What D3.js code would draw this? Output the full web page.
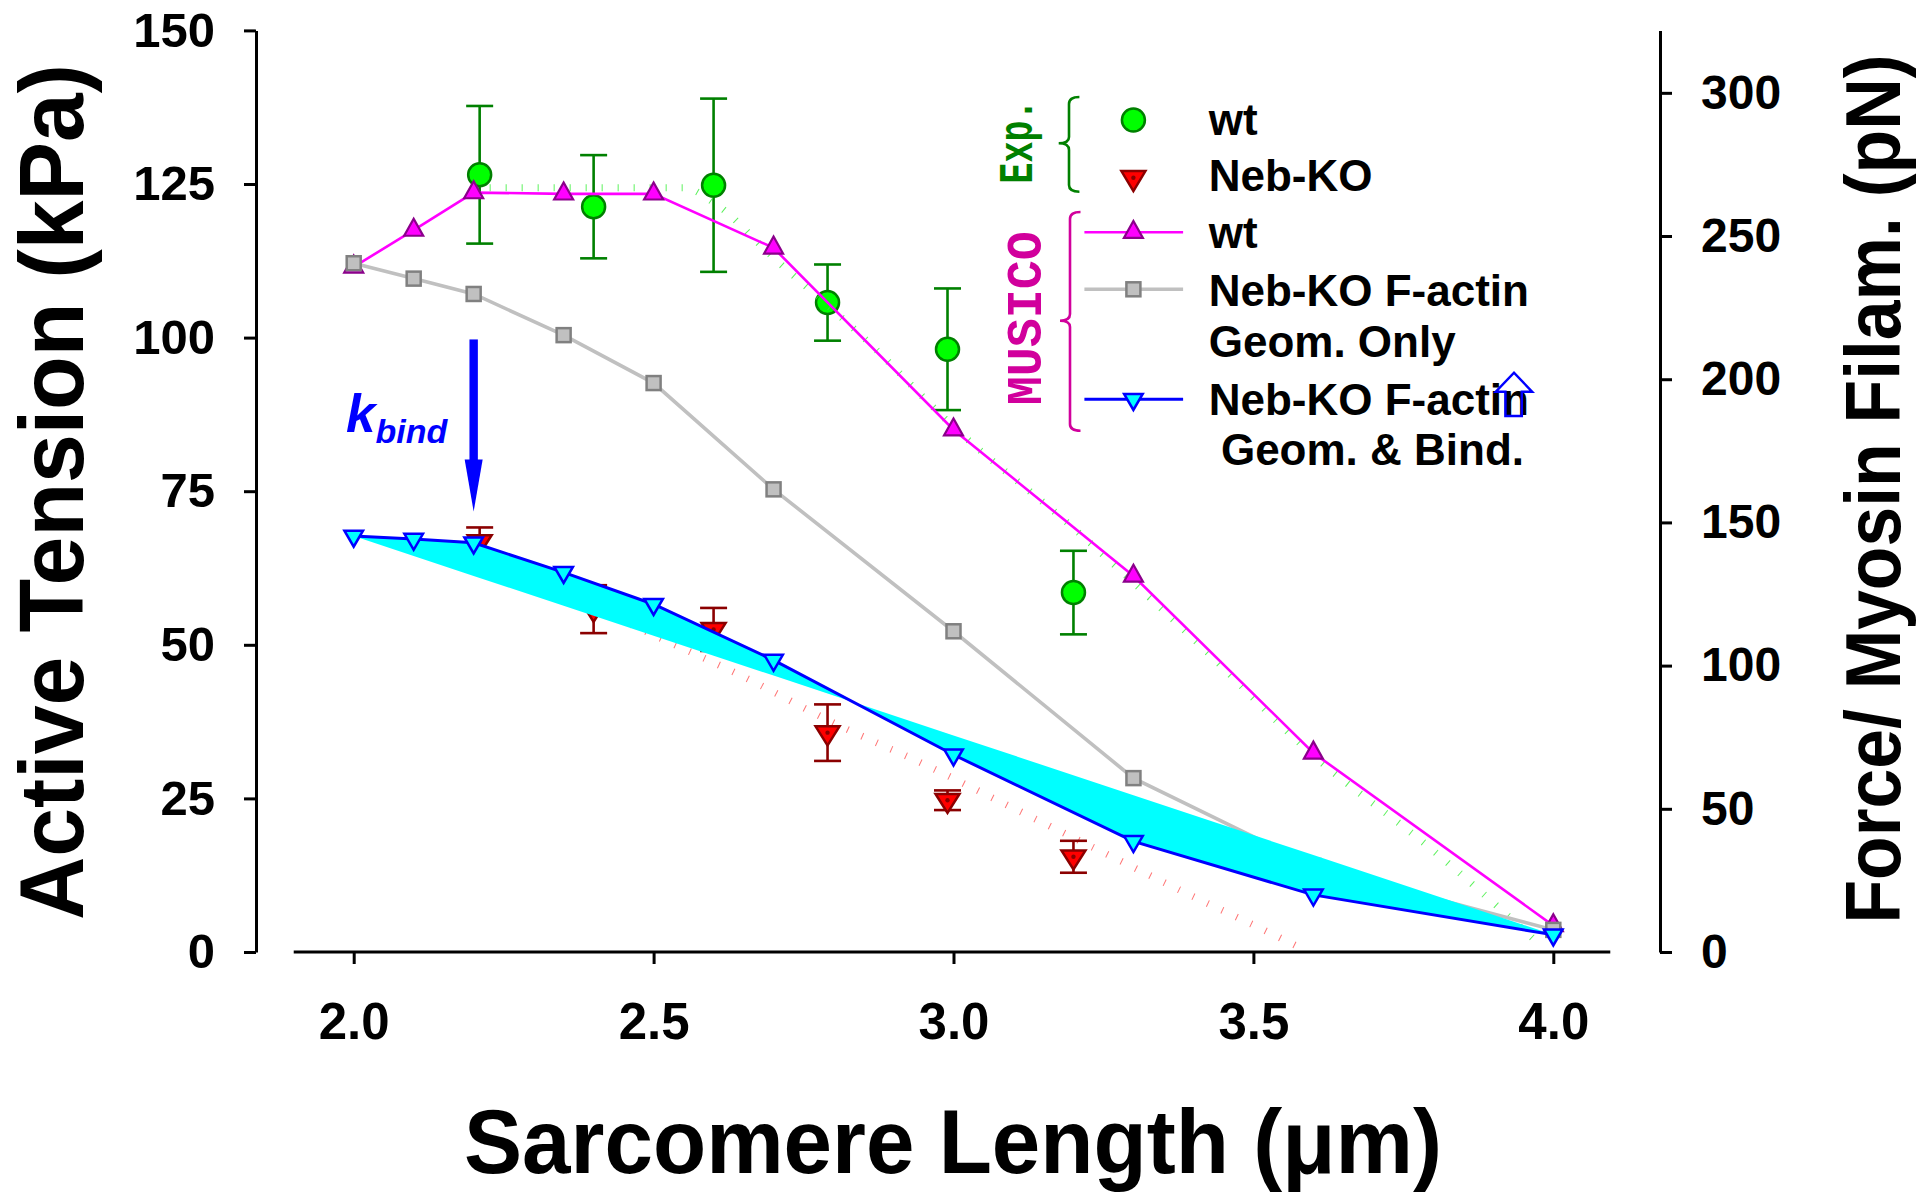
<!DOCTYPE html>
<html>
<head>
<meta charset="utf-8">
<script src="https://cdn.jsdelivr.net/npm/d3@7"></script>
<style>
  html, body { margin: 0; padding: 0; background: #ffffff; }
  svg { display: block; }
  text { font-family: "Liberation Sans", Arial, Helvetica, sans-serif; font-weight: bold; }
</style>
</head>
<body>
<svg id="chart" width="1919" height="1200"></svg>
<script>
// ---------------- DATA ----------------
const SL_MODEL = [2.0, 2.1, 2.2, 2.35, 2.5, 2.7, 3.0, 3.3, 3.6, 4.0];
const MUSICO_WT = [111.5, 117.5, 123.6, 123.4, 123.4, 114.6, 85.0, 61.2, 32.4, 4.3];
const MUSICO_KO_GEOM = [112.1, 109.6, 107.1, 100.4, 92.6, 75.3, 52.2, 28.3, 14.0, 3.6];
const MUSICO_KO_GEOM_BIND = [67.7, 67.2, 66.6, 61.8, 56.6, 47.5, 32.1, 18.0, 9.3, 2.8];

const SL_EXP = [2.21, 2.40, 2.60, 2.79, 2.99, 3.20];
const EXP_WT = [126.5, 121.3, 124.8, 105.7, 98.1, 58.5];
const EXP_WT_ERR = [11.2, 8.4, 14.1, 6.2, 9.9, 6.8];
const EXP_KO = [66.8, 55.8, 52.5, 35.7, 24.7, 15.5];
const EXP_KO_ERR = [2.3, 3.9, 3.5, 4.6, 1.6, 2.6];

const FIT_WT_SL = [2.2, 2.55, 2.6, 2.7, 2.85, 3.0, 3.2, 3.4, 3.6, 3.8, 3.98];
const FIT_WT = [124.4, 124.4, 122.0, 113.0, 100.0, 85.5, 69.0, 51.0, 32.0, 16.5, 1.0];
const FIT_KO_SL = [2.2, 2.35, 2.5, 2.65, 2.8, 2.95, 3.1, 3.25, 3.4, 3.5, 3.58];
const FIT_KO = [66.0, 58.5, 51.6, 44.8, 37.3, 30.6, 23.4, 16.2, 9.0, 4.4, 0.6];

const X_TICKS = [2.0, 2.5, 3.0, 3.5, 4.0];
const Y_TICKS = [0, 25, 50, 75, 100, 125, 150];
const YR_TICKS = [0, 50, 100, 150, 200, 250, 300];
const X_DOMAIN = [2.0, 4.0];
const X_LINE_EXTENT = [1.9, 4.095];
const Y_DOMAIN = [0, 150];
const YR_DOMAIN = [0, 321.8];

const KBIND_ARROW = { sl: 2.2, from: 99.7, to: 71.7 };

const LEGEND_EXP = ["wt", "Neb-KO"];
const LEGEND_MODEL = [["wt"], ["Neb-KO F-actin", "Geom. Only"], ["Neb-KO F-actin", " Geom. & Bind."]];

// ---------------- SETUP ----------------
const svg = d3.select("#chart");
const x = d3.scaleLinear().domain(X_DOMAIN).range([353.7, 1553.3]);
const y = d3.scaleLinear().domain(Y_DOMAIN).range([952, 30.4]);
const yR = d3.scaleLinear().domain(YR_DOMAIN).range([952, 30.4]);

const C = {
  magenta: "#ff00ff", magentaDark: "#8b008b",
  gray: "#c0c0c0", grayDark: "#808080",
  blue: "#0000ff", cyan: "#00ffff",
  green: "#00ff00", greenDark: "#008000",
  red: "#ff0000", redDark: "#8b0000",
  musico: "#d1009c"
};

function triUp(cx, cy, w, h) {
  return `M${cx - w/2},${cy + h/3}L${cx + w/2},${cy + h/3}L${cx},${cy - 2*h/3}Z`;
}
function triDown(cx, cy, w, h) {
  return `M${cx - w/2},${cy - h/3}L${cx + w/2},${cy - h/3}L${cx},${cy + 2*h/3}Z`;
}

// ---------------- AXES ----------------
const axisStyle = g => {
  g.selectAll("path.domain").attr("stroke", "#000").attr("stroke-width", 3);
  g.selectAll(".tick line").attr("stroke", "#000").attr("stroke-width", 3);
  g.selectAll(".tick text").attr("fill", "#000").style("font-family", '"Liberation Sans", Arial, sans-serif').style("font-weight", "bold");
};

const gL = svg.append("g").attr("transform", "translate(256,0)")
  .call(d3.axisLeft(y).tickValues(Y_TICKS).tickSize(12).tickSizeOuter(0).tickPadding(29).tickFormat(d3.format("d")));
axisStyle(gL);
gL.selectAll(".tick text").attr("font-size", 49);

const gR = svg.append("g").attr("transform", "translate(1660,0)")
  .call(d3.axisRight(yR).tickValues(YR_TICKS).tickSize(12).tickSizeOuter(0).tickPadding(29).tickFormat(d3.format("d")));
axisStyle(gR);
gR.selectAll(".tick text").attr("font-size", 48);

const gB = svg.append("g").attr("transform", "translate(0,952)")
  .call(d3.axisBottom(x).tickValues(X_TICKS).tickSize(12).tickSizeOuter(0).tickPadding(39).tickFormat(d3.format(".1f")));
axisStyle(gB);
gB.select("path.domain").remove();
gB.selectAll(".tick text").attr("font-size", 51);
gB.append("line")
  .attr("x1", x(X_LINE_EXTENT[0])).attr("x2", x(X_LINE_EXTENT[1]))
  .attr("y1", 0).attr("y2", 0).attr("stroke", "#000").attr("stroke-width", 3);

// Axis titles
svg.append("text")
  .attr("transform", "translate(83,492) rotate(-90)")
  .attr("text-anchor", "middle").attr("font-size", 90)
  .attr("textLength", 856).attr("lengthAdjust", "spacingAndGlyphs")
  .attr("fill", "#000").text("Active Tension (kPa)");

svg.append("text")
  .attr("transform", "translate(1900,489) rotate(-90)")
  .attr("text-anchor", "middle").attr("font-size", 77)
  .attr("textLength", 869).attr("lengthAdjust", "spacingAndGlyphs")
  .attr("fill", "#000").text("Force/ Myosin Filam. (pN)");

svg.append("text")
  .attr("x", 953).attr("y", 1173)
  .attr("text-anchor", "middle").attr("font-size", 90)
  .attr("textLength", 978).attr("lengthAdjust", "spacingAndGlyphs")
  .attr("fill", "#000").text("Sarcomere Length (\u03bcm)");

// ---------------- PLOT ----------------
const plot = svg.append("g");
const line = d3.line().x(d => x(d[0])).y(d => y(d[1]));
const curve = d3.line().x(d => x(d[0])).y(d => y(d[1])).curve(d3.curveMonotoneX);

const wtData = SL_EXP.map((s, i) => ({ s, v: EXP_WT[i], e: EXP_WT_ERR[i] }));
const koData = SL_EXP.map((s, i) => ({ s, v: EXP_KO[i], e: EXP_KO_ERR[i] }));

function errorBars(g, data, color) {
  const eb = g.append("g").attr("stroke", color).attr("stroke-width", 2.6).attr("fill", "none");
  eb.selectAll("line.v").data(data).join("line")
    .attr("x1", d => x(d.s)).attr("x2", d => x(d.s))
    .attr("y1", d => y(d.v + d.e)).attr("y2", d => y(d.v - d.e));
  eb.selectAll("line.t").data(data).join("line")
    .attr("x1", d => x(d.s) - 13.5).attr("x2", d => x(d.s) + 13.5)
    .attr("y1", d => y(d.v + d.e)).attr("y2", d => y(d.v + d.e));
  eb.selectAll("line.b").data(data).join("line")
    .attr("x1", d => x(d.s) - 13.5).attr("x2", d => x(d.s) + 13.5)
    .attr("y1", d => y(d.v - d.e)).attr("y2", d => y(d.v - d.e));
}

// Experimental wt (green)
errorBars(plot, wtData, C.greenDark);
plot.append("g").selectAll("circle").data(wtData).join("circle")
  .attr("cx", d => x(d.s)).attr("cy", d => y(d.v)).attr("r", 11.5)
  .attr("fill", C.green).attr("stroke", C.greenDark).attr("stroke-width", 2.5);

// Fit tick-lines
plot.append("path").datum(FIT_KO_SL.map((s, i) => [s, FIT_KO[i]]))
  .attr("d", curve).attr("fill", "none").attr("stroke", "#ff5050")
  .attr("stroke-width", 7).attr("stroke-dasharray", "1 15").attr("opacity", 0.8);
plot.append("path").datum(FIT_WT_SL.map((s, i) => [s, FIT_WT[i]]))
  .attr("d", curve).attr("fill", "none").attr("stroke", "#33ee33")
  .attr("stroke-width", 7).attr("stroke-dasharray", "1 15").attr("opacity", 0.8);

// Experimental Neb-KO (red)
errorBars(plot, koData, C.redDark);
const koG = plot.append("g");
koG.selectAll("path").data(koData).join("path")
  .attr("d", d => triDown(x(d.s), y(d.v), 24, 19))
  .attr("fill", C.red).attr("stroke", C.redDark).attr("stroke-width", 2.5);
koG.selectAll("circle").data(koData).join("circle")
  .attr("cx", d => x(d.s)).attr("cy", d => y(d.v)).attr("r", 2.2).attr("fill", C.redDark);

// MUSICO wt (magenta)
const wtModel = SL_MODEL.map((s, i) => [s, MUSICO_WT[i]]);
plot.append("path").datum(wtModel).attr("d", line)
  .attr("fill", "none").attr("stroke", C.magenta).attr("stroke-width", 2.6);
plot.append("g").selectAll("path").data(wtModel).join("path")
  .attr("d", d => triUp(x(d[0]), y(d[1]), 19, 17))
  .attr("fill", C.magenta).attr("stroke", C.magentaDark).attr("stroke-width", 2.2);

// MUSICO Neb-KO geom only (gray)
const geomModel = SL_MODEL.map((s, i) => [s, MUSICO_KO_GEOM[i]]);
plot.append("path").datum(geomModel).attr("d", line)
  .attr("fill", "none").attr("stroke", C.gray).attr("stroke-width", 3.6);
plot.append("g").selectAll("rect").data(geomModel).join("rect")
  .attr("x", d => x(d[0]) - 7).attr("y", d => y(d[1]) - 7)
  .attr("width", 14).attr("height", 14)
  .attr("fill", C.gray).attr("stroke", C.grayDark).attr("stroke-width", 2.5);

// Cyan band between geom&bind curve and the straight chord joining its end points
const bindModel = SL_MODEL.map((s, i) => [s, MUSICO_KO_GEOM_BIND[i]]);
const first = bindModel[0], last = bindModel[bindModel.length - 1];
const chord = s => first[1] + (last[1] - first[1]) * (s - first[0]) / (last[0] - first[0]);
plot.append("path").datum(bindModel)
  .attr("d", d3.area().x(d => x(d[0])).y0(d => y(chord(d[0]))).y1(d => y(d[1])))
  .attr("fill", C.cyan).attr("stroke", "none");

// MUSICO Neb-KO geom & bind (blue)
plot.append("path").datum(bindModel).attr("d", line)
  .attr("fill", "none").attr("stroke", C.blue).attr("stroke-width", 3);
plot.append("g").selectAll("path").data(bindModel).join("path")
  .attr("d", d => triDown(x(d[0]), y(d[1]), 18.6, 16))
  .attr("fill", C.cyan).attr("stroke", C.blue).attr("stroke-width", 2.5);

// k_bind annotation
const ax = x(KBIND_ARROW.sl);
const yTop = y(KBIND_ARROW.from), yTip = y(KBIND_ARROW.to);
plot.append("rect").attr("x", ax - 4.2).attr("y", yTop).attr("width", 8.4).attr("height", (yTip - 52) - yTop + 1)
  .attr("fill", C.blue);
plot.append("path")
  .attr("d", `M${ax - 9},${yTip - 52}L${ax + 9},${yTip - 52}L${ax},${yTip}Z`)
  .attr("fill", C.blue);
const kt = plot.append("text").attr("x", 346).attr("y", 432)
  .attr("fill", C.blue).attr("font-size", 53).attr("font-style", "italic").text("k");
kt.append("tspan").attr("font-size", 34).attr("dy", 11).text("bind");

// ---------------- LEGEND ----------------
const leg = svg.append("g");
const symX = 1133.4, textX = 1208.7;

// Exp. label + brace
leg.append("text").attr("transform", "translate(1032,141.5) rotate(-90)")
  .attr("text-anchor", "middle").attr("font-size", 49)
  .attr("textLength", 84).attr("lengthAdjust", "spacingAndGlyphs")
  .style("font-family", '"Liberation Mono", "DejaVu Sans Mono", monospace')
  .attr("fill", C.greenDark).text("Exp.");
leg.append("path")
  .attr("d", "M1079.4,97 Q1069,97 1069,104 L1069,137 Q1069,143.3 1058.7,143.3 Q1069,143.3 1069,150 L1069,185 Q1069,191.7 1079.4,191.7")
  .attr("fill", "none").attr("stroke", C.greenDark).attr("stroke-width", 2.6);

// MUSICO label + brace
leg.append("text").attr("transform", "translate(1041,318.3) rotate(-90)")
  .attr("text-anchor", "middle").attr("font-size", 50)
  .attr("textLength", 174).attr("lengthAdjust", "spacingAndGlyphs")
  .style("font-family", '"Liberation Mono", "DejaVu Sans Mono", monospace')
  .attr("fill", C.musico).text("MUSICO");
leg.append("path")
  .attr("d", "M1080.5,212 Q1070,212 1070,219 L1070,314 Q1070,320.7 1060,320.7 Q1070,320.7 1070,327 L1070,424 Q1070,430.7 1080.5,430.7")
  .attr("fill", "none").attr("stroke", C.musico).attr("stroke-width", 2.6);

// Exp entries
leg.append("circle").attr("cx", symX).attr("cy", 120).attr("r", 11.5)
  .attr("fill", C.green).attr("stroke", C.greenDark).attr("stroke-width", 2.5);
leg.append("path").attr("d", triDown(symX, 177.7, 24, 20))
  .attr("fill", C.red).attr("stroke", C.redDark).attr("stroke-width", 2.5);
leg.append("circle").attr("cx", symX).attr("cy", 177.7).attr("r", 2.2).attr("fill", C.redDark);
leg.append("text").attr("x", textX).attr("y", 135).attr("font-size", 44).attr("fill", "#000").text(LEGEND_EXP[0]);
leg.append("text").attr("x", textX).attr("y", 191).attr("font-size", 44).attr("fill", "#000").text(LEGEND_EXP[1]);

// Model entries
const legLines = [
  { y: 232.3, stroke: C.magenta, w: 2.6 },
  { y: 289.3, stroke: C.gray, w: 3.6 },
  { y: 399.3, stroke: C.blue, w: 3 }
];
legLines.forEach(l => {
  leg.append("line").attr("x1", 1084.4).attr("x2", 1183.1).attr("y1", l.y).attr("y2", l.y)
    .attr("stroke", l.stroke).attr("stroke-width", l.w);
});
leg.append("path").attr("d", triUp(symX, 232.3, 19, 17))
  .attr("fill", C.magenta).attr("stroke", C.magentaDark).attr("stroke-width", 2.2);
leg.append("rect").attr("x", symX - 7).attr("y", 289.3 - 7).attr("width", 14).attr("height", 14)
  .attr("fill", C.gray).attr("stroke", C.grayDark).attr("stroke-width", 2.5);
leg.append("path").attr("d", triDown(symX, 399.3, 18.6, 16))
  .attr("fill", C.cyan).attr("stroke", C.blue).attr("stroke-width", 2.5);

const modelBaselines = [[248], [306, 356.7], [415, 465]];
LEGEND_MODEL.forEach((lines, i) => {
  lines.forEach((t, j) => {
    leg.append("text").attr("x", textX).attr("y", modelBaselines[i][j])
      .attr("font-size", 44).attr("fill", "#000")
      .attr("xml:space", "preserve").style("white-space", "pre").text(t);
  });
});

// Outlined up arrow near legend
leg.append("path")
  .attr("d", "M1505.4,416 L1505.4,391.7 L1495.8,391.7 L1514,372.7 L1532.1,391.7 L1521.8,391.7 L1521.8,416 Z")
  .attr("fill", "none").attr("stroke", C.blue).attr("stroke-width", 2.5);
</script>
</body>
</html>
